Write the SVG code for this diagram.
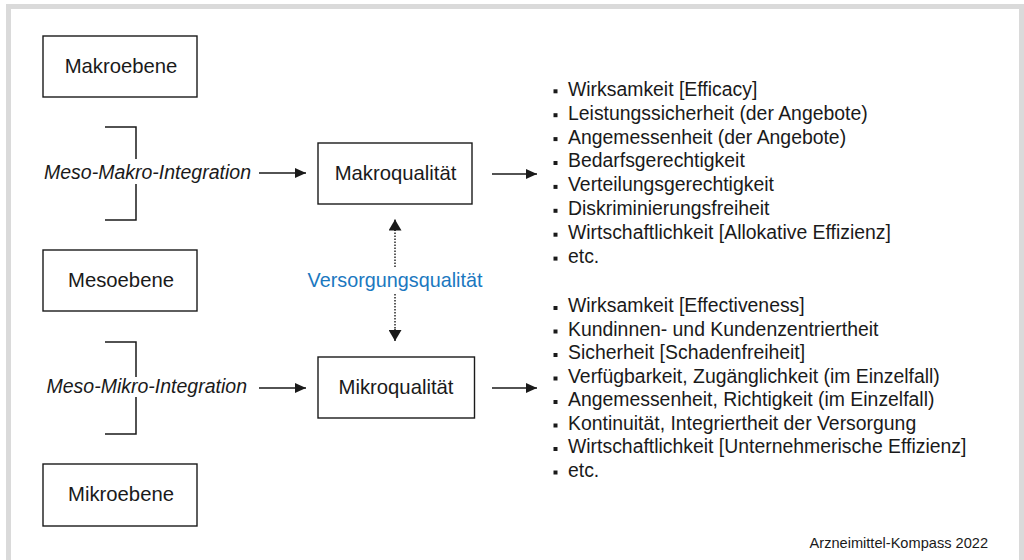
<svg xmlns="http://www.w3.org/2000/svg" width="1024" height="560" viewBox="0 0 1024 560">
<defs>
<style>
.box{fill:#fff;stroke:#1a1a1a;stroke-width:1.4}
.bt{font-family:"Liberation Sans",Arial,sans-serif;font-size:20.3px;fill:#1a1a1a;text-anchor:middle}
.it{font-family:"Liberation Sans",Arial,sans-serif;font-size:19.5px;font-style:italic;fill:#1a1a1a}
.li{font-family:"Liberation Sans",Arial,sans-serif;font-size:19.4px;fill:#1a1a1a}
.ln{stroke:#1a1a1a;stroke-width:1.5;fill:none}
.dot{stroke:#333;stroke-width:1.6;stroke-dasharray:1.6 1.4;fill:none}
.bu{fill:#1a1a1a}
</style>
<marker id="ah" viewBox="0 0 11 10" refX="11" refY="5" markerWidth="11" markerHeight="10" markerUnits="userSpaceOnUse" orient="auto">
<path d="M0,0 L11,5 L0,10 Z" fill="#1a1a1a"/>
</marker>
<marker id="ahv" viewBox="0 0 11 13" refX="11" refY="6.5" markerWidth="11" markerHeight="13" markerUnits="userSpaceOnUse" orient="auto">
<path d="M0,0 L11,6.5 L0,13 Z" fill="#1a1a1a"/>
</marker>
</defs>
<rect width="1024" height="560" fill="#fff"/>
<path d="M8.5,560 V6.5 H1021.5 V560" fill="none" stroke="#dadada" stroke-width="5"/>

<g id="makroebene"><rect class="box" x="43" y="36" width="154" height="61"/><text class="bt" x="121" y="73">Makroebene</text></g>
<g id="mesoebene"><rect class="box" x="43" y="250" width="154" height="61"/><text class="bt" x="121" y="287">Mesoebene</text></g>
<g id="mikroebene"><rect class="box" x="43" y="464" width="154" height="62"/><text class="bt" x="121" y="501">Mikroebene</text></g>
<g id="makroqualitaet"><rect class="box" x="318" y="143" width="154" height="61"/><text class="bt" x="395.5" y="180">Makroqualität</text></g>
<g id="mikroqualitaet"><rect class="box" x="318" y="357" width="156.5" height="61"/><text class="bt" x="396" y="394">Mikroqualität</text></g>

<g id="meso-makro"><path class="ln" d="M105,127 H136 V159 M136,184 V220 H105"/><text class="it" x="44" y="179">Meso-Makro-Integration</text></g>
<g id="meso-mikro"><path class="ln" d="M105,342 H136 V377 M136,397 V434 H105"/><text class="it" x="46.5" y="393">Meso-Mikro-Integration</text></g>
<g id="versorgung"><text x="395" y="287" text-anchor="middle" font-family="Liberation Sans, Arial, sans-serif" font-size="19.8" fill="#1b78bf">Versorgungsqualität</text></g>

<g id="connectors">
<line class="ln" x1="259" y1="173" x2="306" y2="173" marker-end="url(#ah)"/>
<line class="ln" x1="259" y1="388" x2="306" y2="388" marker-end="url(#ah)"/>
<line class="ln" x1="492" y1="174" x2="537" y2="174" marker-end="url(#ah)"/>
<line class="ln" x1="492" y1="388" x2="537" y2="388" marker-end="url(#ah)"/>
<line class="dot" x1="395" y1="267" x2="395" y2="230"/>
<line class="ln" x1="395" y1="231" x2="395" y2="219.5" stroke-width="0.1" marker-end="url(#ahv)"/>
<line class="dot" x1="395" y1="294" x2="395" y2="330"/>
<line class="ln" x1="395" y1="329" x2="395" y2="341" stroke-width="0.1" marker-end="url(#ahv)"/>
</g>

<g id="list-makro">
<rect class="bu" x="553.5" y="89.3" width="4" height="4"/><text class="li" x="568" y="95.7">Wirksamkeit [Efficacy]</text>
<rect class="bu" x="553.5" y="113.2" width="4" height="4"/><text class="li" x="568" y="119.6">Leistungssicherheit (der Angebote)</text>
<rect class="bu" x="553.5" y="137.1" width="4" height="4"/><text class="li" x="568" y="143.5">Angemessenheit (der Angebote)</text>
<rect class="bu" x="553.5" y="161" width="4" height="4"/><text class="li" x="568" y="167.4">Bedarfsgerechtigkeit</text>
<rect class="bu" x="553.5" y="184.9" width="4" height="4"/><text class="li" x="568" y="191.3">Verteilungsgerechtigkeit</text>
<rect class="bu" x="553.5" y="208.8" width="4" height="4"/><text class="li" x="568" y="215.2">Diskriminierungsfreiheit</text>
<rect class="bu" x="553.5" y="232.7" width="4" height="4"/><text class="li" x="568" y="239.1">Wirtschaftlichkeit [Allokative Effizienz]</text>
<rect class="bu" x="553.5" y="256.6" width="4" height="4"/><text class="li" x="568" y="263">etc.</text>
</g>
<g id="list-mikro">
<rect class="bu" x="553.5" y="306" width="4" height="4"/><text class="li" x="568" y="312.3">Wirksamkeit [Effectiveness]</text>
<rect class="bu" x="553.5" y="329.5" width="4" height="4"/><text class="li" x="568" y="335.8">Kundinnen- und Kundenzentriertheit</text>
<rect class="bu" x="553.5" y="353" width="4" height="4"/><text class="li" x="568" y="359.3">Sicherheit [Schadenfreiheit]</text>
<rect class="bu" x="553.5" y="376.5" width="4" height="4"/><text class="li" x="568" y="382.8">Verfügbarkeit, Zugänglichkeit (im Einzelfall)</text>
<rect class="bu" x="553.5" y="400" width="4" height="4"/><text class="li" x="568" y="406.3">Angemessenheit, Richtigkeit (im Einzelfall)</text>
<rect class="bu" x="553.5" y="423.5" width="4" height="4"/><text class="li" x="568" y="429.8">Kontinuität, Integriertheit der Versorgung</text>
<rect class="bu" x="553.5" y="447" width="4" height="4"/><text class="li" x="568" y="453.3">Wirtschaftlichkeit [Unternehmerische Effizienz]</text>
<rect class="bu" x="553.5" y="470.5" width="4" height="4"/><text class="li" x="568" y="476.8">etc.</text>
</g>
<text x="988" y="548" text-anchor="end" font-family="Liberation Sans, Arial, sans-serif" font-size="14.6" fill="#1a1a1a">Arzneimittel-Kompass 2022</text>
</svg>
